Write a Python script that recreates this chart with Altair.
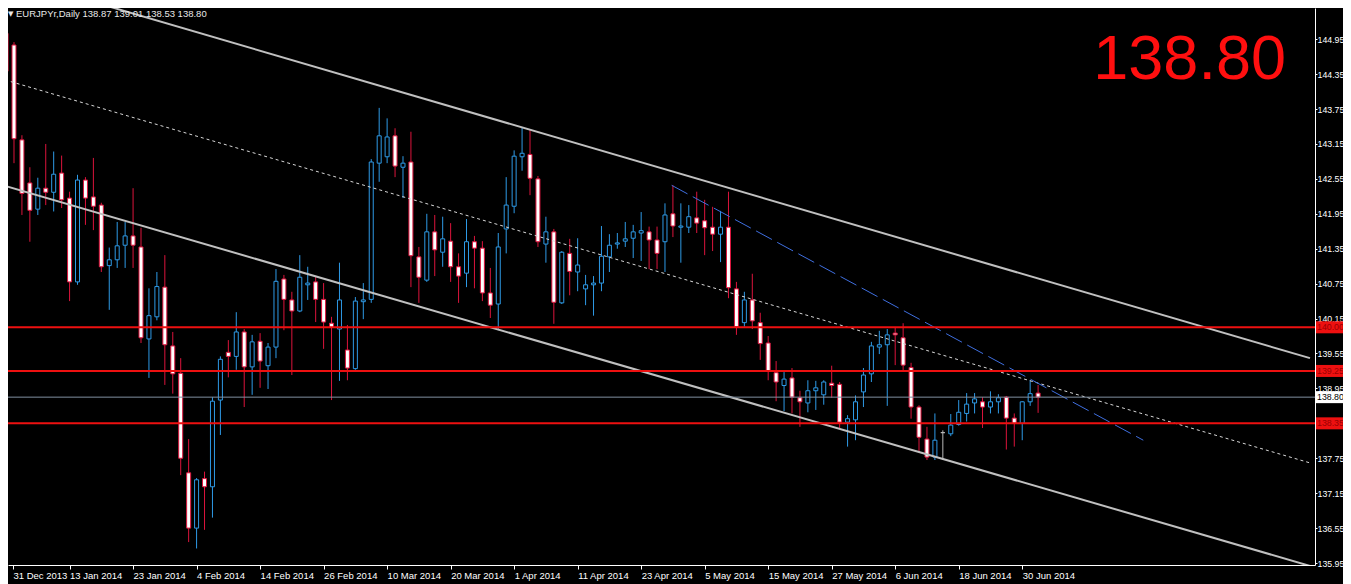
import altair as alt
import pandas as pd

# ---------------- data ----------------
date_labels = ["31 Dec 2013", "13 Jan 2014", "23 Jan 2014", "4 Feb 2014", "14 Feb 2014",
               "26 Feb 2014", "10 Mar 2014", "20 Mar 2014", "1 Apr 2014", "11 Apr 2014",
               "23 Apr 2014", "5 May 2014", "15 May 2014", "27 May 2014", "6 Jun 2014",
               "18 Jun 2014", "30 Jun 2014"]

opens = [145.05, 144.85, 143.22, 142.48, 142.03, 142.39, 142.32, 142.65, 142.22, 140.78,
         142.53, 142.24, 142.10, 141.06, 141.16, 141.41, 141.57, 141.38, 139.80, 140.18,
         140.69, 139.68, 139.21, 137.50, 136.55, 137.40, 137.26, 138.75, 139.57, 139.50,
         139.92, 139.32, 139.76, 139.34, 139.66, 140.83, 140.47, 140.28, 140.73, 140.78,
         140.48, 140.07, 139.97, 139.61, 139.29, 140.44, 140.48, 142.82, 142.93, 143.29,
         142.75, 142.84, 141.21, 140.81, 141.64, 141.29, 141.48, 141.04, 140.93, 141.47,
         141.36, 140.59, 140.40, 141.69, 142.08, 142.93, 142.97, 142.55, 141.43, 141.64,
         140.42, 141.27, 140.95, 140.66, 140.73, 140.76, 141.21, 141.43, 141.48, 141.53,
         141.62, 141.64, 141.50, 141.47, 141.95, 141.72, 141.72, 141.88, 141.83, 141.72,
         141.60, 141.72, 140.66, 140.08, 140.47, 140.08, 139.73, 139.22, 139.00, 139.13,
         138.79, 138.70, 138.91, 138.84, 139.04, 139.02, 138.37, 138.41, 138.89, 139.20,
         139.66, 139.70, 139.90, 139.82, 139.31, 138.63, 138.08, 137.77, 138.19, 138.17,
         138.33, 138.52, 138.70, 138.72, 138.63, 138.72, 138.80, 138.44, 138.35, 138.72,
         138.87]
highs = [145.10, 144.90, 143.30, 142.75, 142.57, 143.15, 143.02, 142.95, 142.33, 142.62,
         142.58, 142.91, 142.14, 141.37, 141.81, 141.81, 142.39, 141.71, 140.67, 140.95,
         141.24, 139.92, 139.47, 138.08, 137.41, 137.52, 138.80, 139.50, 139.78, 140.26,
         139.97, 139.87, 139.90, 139.73, 141.00, 140.90, 140.61, 141.24, 141.04, 140.88,
         140.76, 140.18, 141.11, 140.04, 140.52, 140.76, 142.89, 143.77, 143.59, 143.42,
         142.94, 143.36, 141.38, 141.95, 141.93, 141.90, 141.79, 141.27, 141.86, 141.57,
         141.48, 141.02, 141.62, 142.58, 143.04, 143.44, 143.39, 142.60, 141.90, 141.69,
         141.31, 141.52, 141.53, 140.90, 140.88, 141.74, 141.60, 141.62, 141.81, 141.76,
         141.98, 141.73, 141.73, 142.13, 142.44, 142.13, 142.10, 142.33, 142.19, 142.07,
         142.00, 142.33, 140.78, 140.61, 140.92, 140.25, 139.85, 139.42, 139.23, 139.30,
         138.91, 139.09, 139.08, 139.09, 139.34, 139.06, 138.49, 138.83, 139.30, 139.75,
         139.94, 139.97, 140.00, 140.07, 139.39, 138.66, 138.29, 138.52, 138.23, 138.51,
         138.75, 138.87, 138.87, 138.80, 138.90, 138.85, 138.82, 138.52, 138.73, 139.09,
         139.01]
lows = [144.30, 142.82, 141.93, 141.47, 141.93, 142.10, 141.99, 142.05, 140.45, 140.73,
        141.76, 141.67, 140.95, 140.30, 141.02, 141.02, 141.02, 139.73, 139.13, 140.12,
        139.01, 138.86, 137.46, 136.31, 136.20, 136.52, 136.73, 138.15, 139.14, 139.27,
        138.63, 138.84, 138.96, 138.94, 139.47, 139.95, 139.18, 140.26, 140.47, 140.09,
        139.63, 138.75, 139.08, 139.09, 139.27, 140.14, 140.42, 142.50, 142.82, 142.58,
        142.22, 140.69, 140.42, 140.78, 140.88, 141.04, 140.78, 140.42, 140.69, 140.67,
        140.45, 140.16, 139.95, 141.27, 141.96, 142.69, 142.27, 141.38, 141.11, 140.06,
        140.40, 140.55, 140.62, 140.38, 140.20, 140.62, 140.95, 141.35, 141.38, 141.19,
        141.14, 141.00, 141.00, 140.95, 141.55, 141.11, 141.62, 141.62, 141.24, 141.31,
        141.12, 140.50, 139.87, 140.01, 139.97, 139.44, 139.09, 138.73, 138.56, 138.52,
        138.29, 138.54, 138.58, 138.67, 138.79, 138.27, 137.95, 138.06, 138.63, 139.06,
        139.54, 138.65, 139.35, 139.26, 138.43, 137.85, 137.72, 137.72, 137.72, 138.13,
        138.31, 138.38, 138.52, 138.27, 138.52, 138.52, 137.90, 137.95, 138.06, 138.65,
        138.53]
closes = [144.40, 143.24, 142.30, 142.01, 142.39, 142.32, 142.63, 142.19, 140.78, 142.53,
          142.22, 142.08, 141.04, 141.16, 141.40, 141.57, 141.41, 139.82, 140.20, 140.70,
          139.70, 139.20, 137.75, 136.55, 137.38, 137.26, 138.73, 139.45, 139.50, 139.92,
          139.32, 139.75, 139.42, 139.66, 140.79, 140.48, 140.28, 140.86, 140.76, 140.48,
          140.09, 140.00, 140.47, 139.30, 140.45, 140.47, 142.84, 143.29, 143.27, 142.77,
          142.82, 141.23, 140.86, 141.64, 141.33, 141.52, 141.04, 140.88, 141.47, 141.36,
          140.59, 140.38, 141.38, 142.10, 142.94, 142.99, 142.56, 141.47, 141.64, 140.43,
          141.29, 140.96, 141.07, 140.73, 140.76, 141.22, 141.41, 141.45, 141.52, 141.64,
          141.66, 141.50, 141.27, 141.93, 141.74, 141.74, 141.90, 141.79, 141.71, 141.60,
          141.72, 140.68, 140.01, 140.47, 140.11, 139.72, 139.25, 139.06, 139.11, 138.80,
          138.72, 138.91, 138.96, 139.06, 139.00, 138.37, 138.43, 138.72, 139.18, 139.68,
          139.70, 139.87, 139.87, 139.35, 138.63, 138.11, 137.77, 138.06, 138.19, 138.32,
          138.54, 138.68, 138.77, 138.63, 138.72, 138.79, 138.44, 138.35, 138.72, 138.86,
          138.80]

price_ticks = [145.55, 144.95, 144.35, 143.75, 143.15, 142.55, 141.95, 141.35, 140.75,
               140.15, 139.55, 138.95, 138.35, 137.75, 137.15, 136.55, 135.95]
level_prices = [140.00, 139.25, 138.35]
bid_price = 138.80
title_text = "EURJPYr,Daily  138.87 139.01 138.53 138.80"
big_price_text = "138.80"

# trend lines: bar index / price of the two anchor points
upper_x, upper_p = [0.0, 164.25], [146.03, 139.47]
lower_x, lower_p = [-0.125, 164.25], [142.43, 135.90]
mid_x, mid_p = [-0.125, 164.25], [144.25, 137.67]
blue_x, blue_p = [83.84, 143.25], [142.44, 138.06]

# ---------------- style ----------------
BULL = "#2E9AE6"
BEAR = "#DC143C"
DOJI = "#B8B8B8"
RED = "#EE1010"
FONT = "Liberation Sans"
PLOT_W, PLOT_H = 1307, 557
RIGHT_PAD = 28
AX_FS = 8.8

n = len(opens)
candles = pd.DataFrame({"i": list(range(n)), "open": opens, "high": highs,
                        "low": lows, "close": closes})

x_scale = alt.Scale(domain=[0.875, 164.25], nice=False, zero=False)
y_scale = alt.Scale(domain=[135.916, 145.486], nice=False, zero=False)

label_js = "[" + ",".join("'%s'" % s for s in date_labels) + "]"
x_axis = alt.Axis(values=[0.875] + [8 * k for k in range(1, len(date_labels))],
                  labelExpr=label_js + "[round(datum.value/8)]",
                  orient="bottom", grid=False, title=None,
                  domainColor="#ffffff", tickColor="#ffffff", tickSize=4,
                  labelColor="#ffffff", labelFont=FONT, labelFontSize=9.5,
                  labelAlign="left", labelPadding=1, labelOverlap=False, labelFlush=False)
y_axis = alt.Axis(values=price_ticks, format=".2f", orient="right", grid=False, title=None,
                  domainColor="#ffffff", tickColor="#ffffff", tickSize=2,
                  labelColor="#ffffff", labelFont=FONT, labelFontSize=AX_FS,
                  labelPadding=0, labelOverlap=False, labelFlush=False)


def X(field):
    return alt.X(field, scale=x_scale, axis=x_axis)


def Y(field):
    return alt.Y(field, scale=y_scale, axis=y_axis)


dir_expr = "datum.close > datum.open ? 'bull' : (datum.close < datum.open ? 'bear' : 'doji')"
stroke_sc = alt.Scale(domain=["bull", "bear", "doji"], range=[BULL, BEAR, DOJI])
fill_sc = alt.Scale(domain=["bull", "bear", "doji"], range=["#000000", "#ffffff", DOJI])

base = alt.Chart(candles).transform_calculate(dir=dir_expr)

wicks = base.mark_rule(strokeWidth=1, clip=True).encode(
    x=X("i:Q"), y=Y("low:Q"), y2="high:Q",
    stroke=alt.Stroke("dir:N", scale=stroke_sc, legend=None),
)
bodies = base.mark_bar(size=4, strokeWidth=1, clip=True).encode(
    x=X("i:Q"), y=Y("open:Q"), y2="close:Q",
    fill=alt.Fill("dir:N", scale=fill_sc, legend=None),
    stroke=alt.Stroke("dir:N", scale=stroke_sc, legend=None),
)


def tline(xs, ps, color, width, dash=None):
    df = pd.DataFrame({"x": xs, "p": ps})
    kw = dict(color=color, strokeWidth=width, clip=True)
    if dash:
        kw["strokeDash"] = dash
    return alt.Chart(df).mark_line(**kw).encode(x=X("x:Q"), y=Y("p:Q"))


upper = tline(upper_x, upper_p, "#C0C0C0", 2)
lower = tline(lower_x, lower_p, "#C0C0C0", 2)
mid = tline(mid_x, mid_p, "#D8D8D8", 1, [3, 3])
blue = tline(blue_x, blue_p, "#3F6FE0", 1, [18, 6])

levels_df = pd.DataFrame({"p": level_prices,
                          "lab": ["%.2f" % v for v in level_prices]})
bid_df = pd.DataFrame({"p": [bid_price], "lab": ["%.2f" % bid_price]})

level_rules = alt.Chart(levels_df).mark_rule(color=RED, strokeWidth=2).encode(y=Y("p:Q"))
bid_rule = alt.Chart(bid_df).mark_rule(color="#8090A0", strokeWidth=1).encode(y=Y("p:Q"))

level_tag_bg = alt.Chart(levels_df).mark_rule(color=RED, strokeWidth=12).encode(
    x=alt.value(PLOT_W + 1), x2=alt.value(PLOT_W + RIGHT_PAD), y=Y("p:Q"))
level_tag_txt = alt.Chart(levels_df).mark_text(
    align="left", baseline="middle", font=FONT, fontSize=AX_FS, color="#9A0000").encode(
    x=alt.value(PLOT_W + 2), y=Y("p:Q"), text="lab:N")
bid_tag_bg = alt.Chart(bid_df).mark_rule(color="#ffffff", strokeWidth=12).encode(
    x=alt.value(PLOT_W + 1), x2=alt.value(PLOT_W + RIGHT_PAD), y=Y("p:Q"))
bid_tag_txt = alt.Chart(bid_df).mark_text(
    align="left", baseline="middle", font=FONT, fontSize=AX_FS, color="#000000").encode(
    x=alt.value(PLOT_W + 2), y=Y("p:Q"), text="lab:N")

title_df = pd.DataFrame({"t": [title_text]})
title = alt.Chart(title_df).mark_text(
    align="left", baseline="top", font=FONT, fontSize=9.5, color="#E8E8E8").encode(
    x=alt.value(8), y=alt.value(1), text="t:N")
tri = alt.Chart(pd.DataFrame({"t": ["▼"]})).mark_text(
    align="left", baseline="top", font="DejaVu Sans", fontSize=7, color="#E8E8E8").encode(
    x=alt.value(0), y=alt.value(2), text="t:N")

big_df = pd.DataFrame({"t": [big_price_text]})
big = alt.Chart(big_df).mark_text(
    align="right", baseline="alphabetic", font=FONT,
    fontSize=63, color="#FF0F0F").encode(
    x=alt.value(1278), y=alt.value(71), text="t:N")

chart = alt.layer(
    wicks, bodies, mid, upper, lower, blue, bid_rule, level_rules,
    bid_tag_bg, bid_tag_txt, level_tag_bg, level_tag_txt, title, tri, big
).properties(
    width=PLOT_W, height=PLOT_H,
    autosize=alt.AutoSizeParams(type="none"),
    padding={"left": 0, "top": 0, "right": RIGHT_PAD, "bottom": 19},
    background="#000000",
).configure_view(stroke=None)

chart.save("out.html", embed_options={"renderer": "svg", "actions": False})
